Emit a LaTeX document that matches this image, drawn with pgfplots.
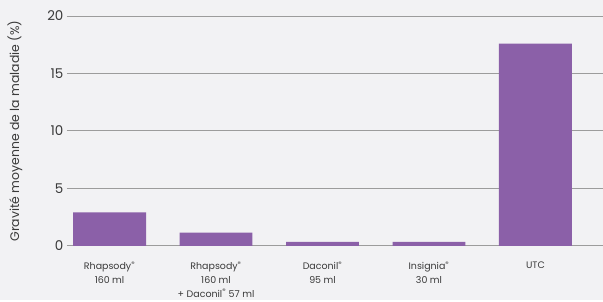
\documentclass[border=0pt]{standalone}
\usepackage{pgfplots}
\pgfplotsset{compat=1.18}
\usepackage{fontspec}
\setmainfont{Poppins}
\usetikzlibrary{backgrounds}
\definecolor{bgc}{HTML}{F2F2F4}
\definecolor{barc}{HTML}{8B60A8}
\definecolor{gridc}{HTML}{9C9C9C}
\definecolor{txtc}{HTML}{3A3A3A}
\begin{document}
\begin{tikzpicture}
\begin{axis}[
  scale only axis,
  width=536bp, height=230bp,
  xmin=-0.4, xmax=4.63,
  ymin=0, ymax=20,
  ytick={0,5,10,15,20},
  xtick=data,
  xticklabels={{Rhapsody\textsuperscript{®}\\160 ml},{Rhapsody\textsuperscript{®}\\160 ml\\+ Daconil\textsuperscript{®} 57 ml},{Daconil\textsuperscript{®}\\95 ml},{Insignia\textsuperscript{®}\\30 ml},{UTC}},
  xticklabel style={align=center, font=\fontsize{9.5}{14}\selectfont, text=txtc, yshift=-12bp},
  yticklabel style={font=\fontsize{13.5}{14}\selectfont, text=txtc},
  /pgf/number format/assume math mode=true,
  axis line style={draw=none},
  major tick length=0pt,
  ymajorgrids,
  grid style={gridc, line width=0.9bp},
  ylabel={Gravité moyenne de la maladie (\%)},
  ylabel style={font=\fontsize{12.5}{14}\selectfont, text=txtc, at={(axis description cs:-0.097,0.5)}, anchor=center},
  ybar, bar width=73bp,
  clip=false,
]
\addplot[fill=barc, draw=none] coordinates {(0,2.9) (1,1.15) (2,0.35) (3,0.35) (4,17.6)};
\end{axis}
\path[use as bounding box] (current axis.south west) ++(-67bp,-54bp) rectangle ++(603bp,300bp);
\begin{scope}[on background layer]
\fill[bgc] (current axis.south west) ++(-67bp,-54bp) rectangle ++(603bp,300bp);
\end{scope}
\end{tikzpicture}
\end{document}
